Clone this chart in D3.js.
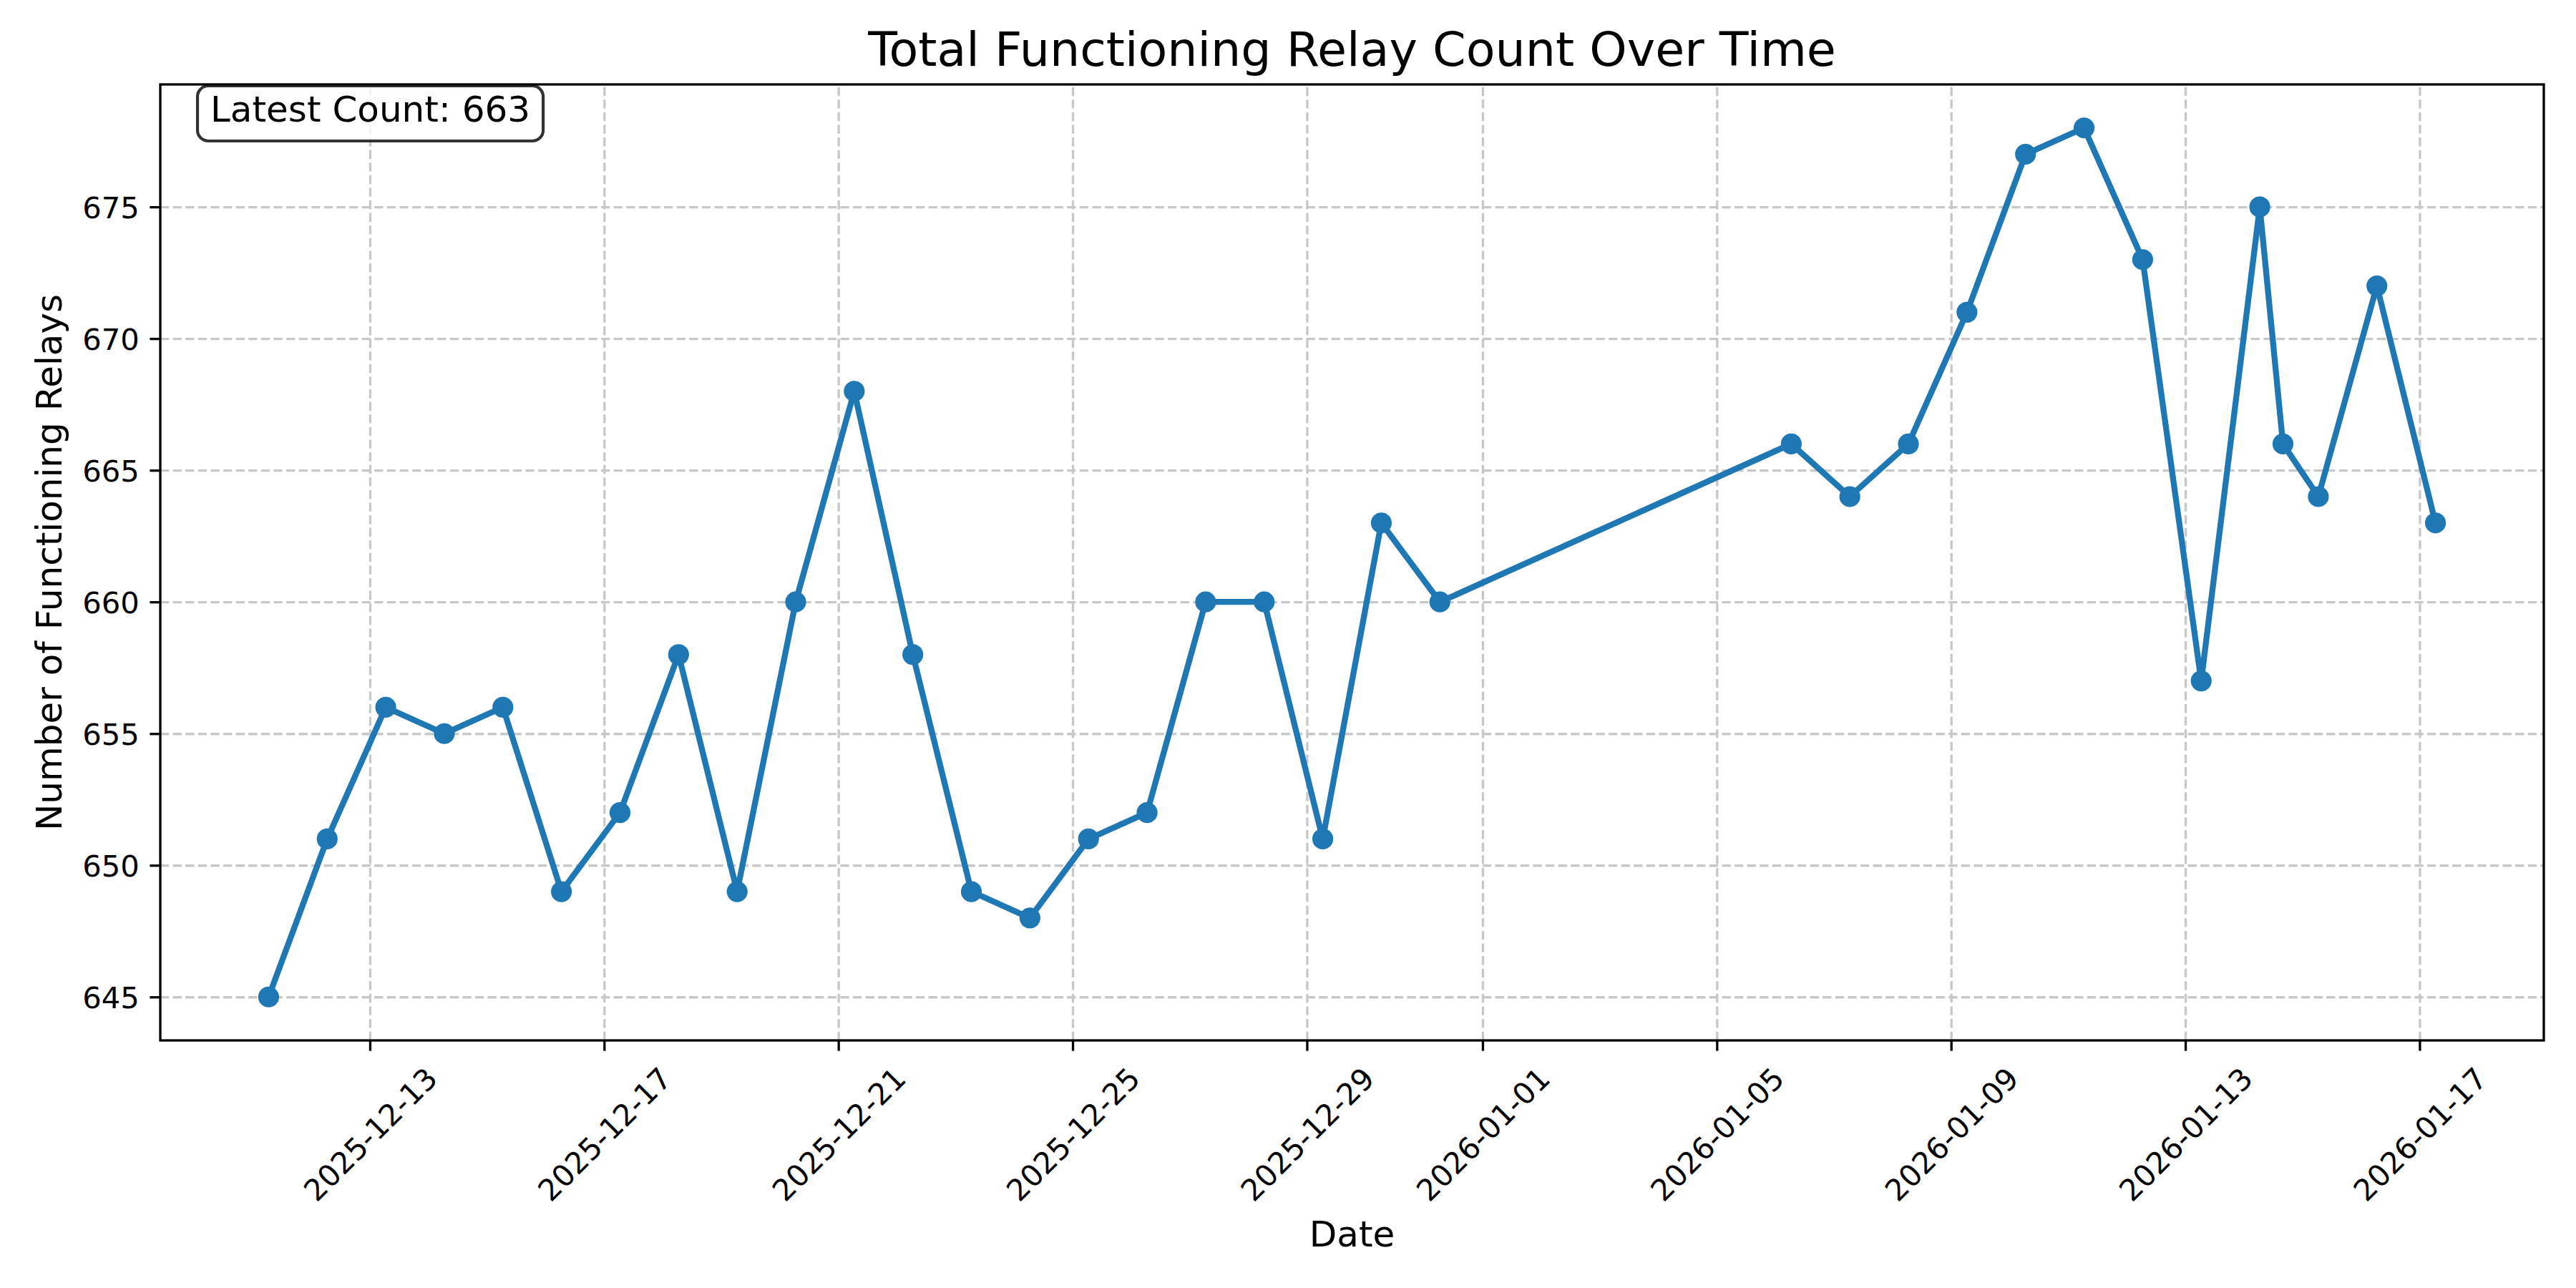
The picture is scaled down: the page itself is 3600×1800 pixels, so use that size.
<!DOCTYPE html>
<html>
<head>
<meta charset="utf-8">
<script src="https://cdn.jsdelivr.net/npm/d3@7"></script>
<style>
   body { margin: 0; background: #fff; }
   svg { display: block; font-family: "DejaVu Sans", sans-serif; }
</style>
</head>
<body>
<div id="chart"></div>
<script>
// Data (times in UTC)
const dates = [
   "2025-12-11 06:30", "2025-12-12 06:30", "2025-12-13 06:30", "2025-12-14 06:30",
   "2025-12-15 06:30", "2025-12-16 06:30", "2025-12-17 06:30", "2025-12-18 06:30",
   "2025-12-19 06:30", "2025-12-20 06:30", "2025-12-21 06:30", "2025-12-22 06:30",
   "2025-12-23 06:30", "2025-12-24 06:30", "2025-12-25 06:30", "2025-12-26 06:30",
   "2025-12-27 06:30", "2025-12-28 06:30", "2025-12-29 06:30", "2025-12-30 06:30",
   "2025-12-31 06:30", "2026-01-06 06:30", "2026-01-07 06:30", "2026-01-08 06:30",
   "2026-01-09 06:30", "2026-01-10 06:30", "2026-01-11 06:30", "2026-01-12 06:30",
   "2026-01-13 06:30", "2026-01-14 06:30", "2026-01-14 16:00", "2026-01-15 06:30",
   "2026-01-16 06:30", "2026-01-17 06:30"
];
const counts = [
   645, 651, 656, 655, 656, 649, 652, 658, 649, 660, 668, 658, 649, 648, 651, 652,
   660, 660, 651, 663, 660, 666, 664, 666, 671, 677, 678, 673, 657, 675, 666, 664,
   672, 663
];
const xTickLabels = [
   "2025-12-13", "2025-12-17", "2025-12-21", "2025-12-25", "2025-12-29",
   "2026-01-01", "2026-01-05", "2026-01-09", "2026-01-13", "2026-01-17"
];
const yTicks = [645, 650, 655, 660, 665, 670, 675];

const parseTime = d3.utcParse("%Y-%m-%d %H:%M");
const parseDay = d3.utcParse("%Y-%m-%d");

var data = dates.map(function (d, i) {
   return { date: parseTime(d), value: counts[i] };
});

// Figure layout (px)
var W = 3600, H = 1800;
var margin = { top: 118, right: 45, bottom: 346, left: 224 };
var width = W - margin.left - margin.right,
   height = H - margin.top - margin.bottom;

var svg = d3.select("#chart")
   .append("svg")
   .attr("width", W)
   .attr("height", H);

svg.append("rect").attr("width", W).attr("height", H).attr("fill", "#fff");

var g = svg.append("g")
   .attr("transform", "translate(" + margin.left + "," + margin.top + ")");

// Scales with 5% padding like matplotlib
var xExt = d3.extent(data, d => d.date.getTime());
var xPad = (xExt[1] - xExt[0]) * 0.05;
var xScale = d3.scaleUtc()
   .domain([new Date(xExt[0] - xPad), new Date(xExt[1] + xPad)])
   .range([0, width]);

var yExt = d3.extent(data, d => d.value);
var yPad = (yExt[1] - yExt[0]) * 0.05;
var yScale = d3.scaleLinear()
   .domain([yExt[0] - yPad, yExt[1] + yPad])
   .range([height, 0]);

var xTickDates = xTickLabels.map(parseDay);

// Grid
var gridStyle = function (sel) {
   sel.select(".domain").remove();
   sel.selectAll("text").remove();
   sel.selectAll("line")
      .attr("stroke", "#c8c8c8")
      .attr("stroke-width", 3.3)
      .attr("stroke-dasharray", "12.3,5.3");
};
g.append("g")
   .attr("transform", "translate(0," + height + ")")
   .call(d3.axisBottom(xScale).tickValues(xTickDates).tickSize(-height))
   .call(gridStyle);
g.append("g")
   .call(d3.axisLeft(yScale).tickValues(yTicks).tickSize(-width))
   .call(gridStyle);

// Line and markers
var line = d3.line()
   .x(d => xScale(d.date))
   .y(d => yScale(d.value));

g.append("path")
   .datum(data)
   .attr("fill", "none")
   .attr("stroke", "#1f77b4")
   .attr("stroke-width", 8.3)
   .attr("stroke-linejoin", "round")
   .attr("stroke-linecap", "butt")
   .attr("d", line);

g.selectAll(".dot")
   .data(data)
   .enter().append("circle")
   .attr("class", "dot")
   .attr("cx", d => xScale(d.date))
   .attr("cy", d => yScale(d.value))
   .attr("r", 14.6)
   .attr("fill", "#1f77b4");

// Axes
var xAxis = g.append("g")
   .attr("transform", "translate(0," + height + ")")
   .call(d3.axisBottom(xScale).tickValues(xTickDates).tickSize(14.6).tickSizeOuter(0)
      .tickFormat(d3.utcFormat("%Y-%m-%d")));
xAxis.select(".domain").remove();
xAxis.selectAll("line").attr("stroke", "#000").attr("stroke-width", 3.3);
xAxis.selectAll("text")
   .attr("fill", "#000")
   .attr("font-size", 41.67)
   .attr("font-family", "DejaVu Sans")
   .attr("text-anchor", "middle")
   .attr("y", null)
   .attr("dy", "0.36em")
   .attr("transform", "translate(0,131) rotate(-45)");

var yAxis = g.append("g")
   .call(d3.axisLeft(yScale).tickValues(yTicks).tickSize(14.6).tickSizeOuter(0).tickPadding(14.6));
yAxis.select(".domain").remove();
yAxis.selectAll("line").attr("stroke", "#000").attr("stroke-width", 3.3);
yAxis.selectAll("text")
   .attr("fill", "#000")
   .attr("font-size", 41.67)
   .attr("font-family", "DejaVu Sans")
   .attr("dy", "0.36em");

// Frame
g.append("rect")
   .attr("width", width)
   .attr("height", height)
   .attr("fill", "none")
   .attr("stroke", "#000")
   .attr("stroke-width", 3.3);

// Title and labels
svg.append("text")
   .attr("x", margin.left + width / 2)
   .attr("y", 92)
   .attr("text-anchor", "middle")
   .attr("font-size", 66.67)
   .text("Total Functioning Relay Count Over Time");

svg.append("text")
   .attr("x", margin.left + width / 2)
   .attr("y", 1742)
   .attr("text-anchor", "middle")
   .attr("font-size", 50)
   .text("Date");

svg.append("text")
   .attr("transform", "translate(86," + (margin.top + height / 2) + ") rotate(-90)")
   .attr("text-anchor", "middle")
   .attr("font-size", 50)
   .text("Number of Functioning Relays");

// Latest count box
var note = svg.append("g");
var noteRect = note.append("rect");
var noteText = note.append("text")
   .attr("x", 294)
   .attr("y", 170)
   .attr("font-size", 50)
   .text("Latest Count: " + counts[counts.length - 1]);
var tw = noteText.node().getComputedTextLength();
noteRect
   .attr("x", 276)
   .attr("y", 120)
   .attr("width", tw + 36)
   .attr("height", 77)
   .attr("rx", 15)
   .attr("fill", "#fff")
   .attr("fill-opacity", 0.8)
   .attr("stroke", "#000")
   .attr("stroke-opacity", 0.8)
   .attr("stroke-width", 4.2);
</script>
</body>
</html>
